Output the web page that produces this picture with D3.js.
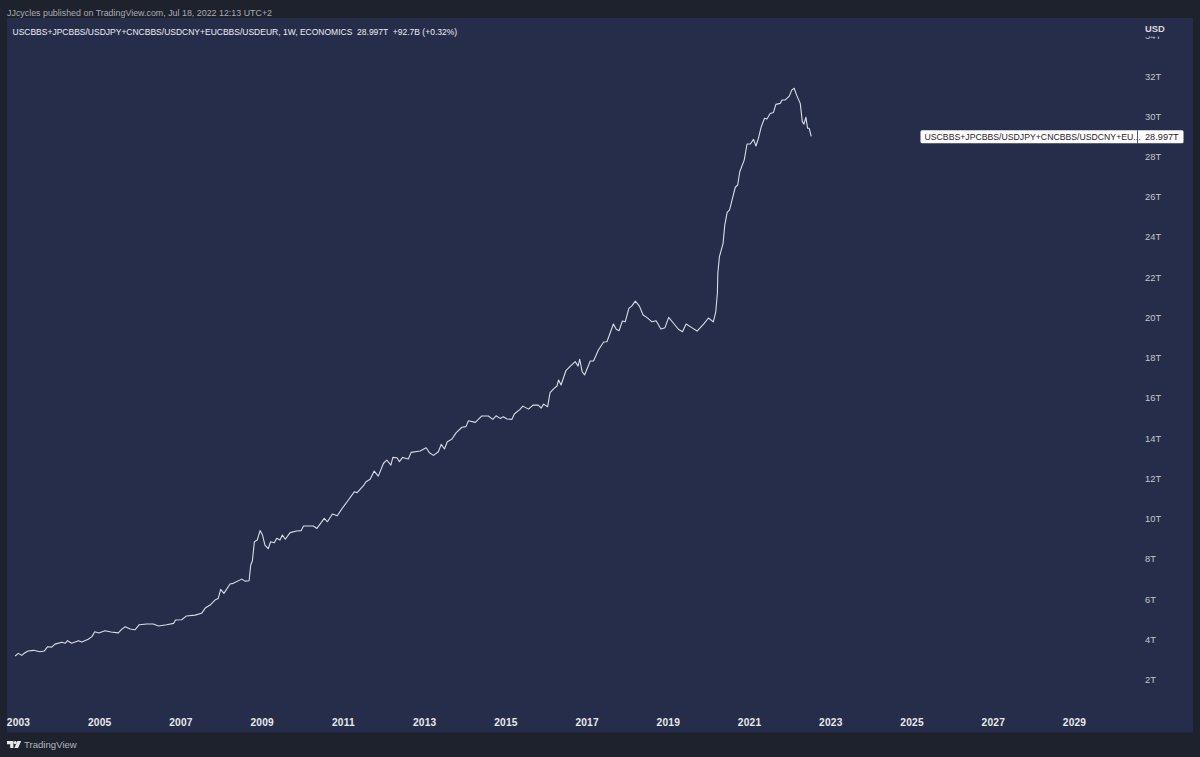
<!DOCTYPE html>
<html>
<head>
<meta charset="utf-8">
<script src="https://cdn.jsdelivr.net/npm/d3@7"></script>
<style>
  body { margin: 0; background: #1e222d; }
  svg { display: block; font-family: "Liberation Sans", sans-serif; }
</style>
</head>
<body>
<div id="chart"></div>
<script>
// decimal year, balance sheet total in trillions
const years = [
  2002.93,2003.01,2003.09,2003.17,2003.25,2003.38,2003.54,2003.65,2003.73,2003.83,2003.91,
  2004.08,2004.16,2004.22,2004.32,2004.49,2004.57,2004.73,2004.82,2004.89,2004.99,
  2005.14,2005.29,2005.47,2005.55,2005.64,2005.76,2005.88,2005.98,
  2006.17,2006.33,2006.46,2006.66,2006.83,2006.88,
  2007.03,2007.15,2007.36,2007.52,2007.61,2007.73,2007.85,2007.93,2007.99,
  2008.07,2008.22,2008.30,2008.51,2008.59,2008.69,2008.73,2008.77,2008.82,2008.89,2008.96,
  2009.02,2009.08,2009.16,2009.22,2009.31,2009.37,2009.45,2009.51,2009.58,2009.70,2009.86,2009.97,
  2010.03,2010.15,2010.27,2010.36,2010.54,2010.62,2010.74,2010.86,
  2011.00,2011.13,2011.28,2011.35,2011.50,2011.57,2011.67,2011.77,2011.87,
  2012.00,2012.08,2012.18,2012.23,2012.33,2012.39,2012.47,2012.61,2012.68,2012.90,
  2013.05,2013.13,2013.23,2013.35,2013.42,2013.50,2013.57,2013.68,2013.79,2013.93,
  2014.03,2014.09,2014.26,2014.42,2014.58,2014.69,2014.77,2014.87,2014.95,
  2015.04,2015.16,2015.22,2015.36,2015.43,2015.57,2015.68,2015.81,2015.88,2015.94,
  2016.04,2016.10,2016.20,2016.27,2016.31,2016.37,2016.49,2016.60,2016.72,2016.79,2016.83,2016.89,2016.95,
  2017.09,2017.17,2017.29,2017.42,2017.50,2017.66,2017.73,2017.80,2017.88,2017.95,
  2018.04,2018.11,2018.20,2018.30,2018.39,2018.48,2018.61,2018.71,2018.83,2018.93,
  2019.02,2019.14,2019.26,2019.36,2019.45,2019.59,2019.72,2019.88,
  2020.00,2020.12,2020.18,2020.22,2020.23,2020.27,2020.36,2020.40,2020.46,2020.52,2020.58,2020.66,2020.72,2020.77,2020.88,2020.95,
  2021.03,2021.11,2021.17,2021.23,2021.30,2021.38,2021.44,2021.52,2021.60,2021.66,2021.77,2021.81,2021.89,2021.99,
  2022.05,2022.11,2022.17,2022.26,2022.31,2022.35,2022.40,2022.44,2022.48,2022.53
];
const totals = [
  3.17,3.30,3.20,3.33,3.42,3.45,3.38,3.42,3.63,3.61,3.76,
  3.85,3.80,3.93,3.80,3.93,3.86,4.00,4.13,4.37,4.31,
  4.42,4.36,4.32,4.49,4.62,4.51,4.47,4.72,
  4.76,4.76,4.66,4.72,4.79,4.96,
  4.97,5.16,5.20,5.29,5.55,5.70,5.95,6.03,6.48,
  6.28,6.75,6.78,6.99,6.89,6.91,7.69,7.89,8.85,8.93,9.40,
  9.18,8.68,8.50,8.85,8.80,9.02,8.93,9.18,8.97,9.30,9.38,9.40,
  9.63,9.63,9.63,9.51,10.01,9.84,10.23,10.14,
  10.56,10.91,11.33,11.29,11.62,11.83,11.95,12.36,12.11,
  12.75,12.91,12.66,13.04,13.02,12.83,13.04,12.96,13.29,13.36,
  13.52,13.27,13.14,13.32,13.69,13.46,13.82,13.94,14.27,14.54,
  14.57,14.86,14.78,15.10,15.10,14.93,15.11,14.98,15.06,
  14.95,14.93,15.20,15.43,15.59,15.44,15.64,15.64,15.49,15.69,
  15.56,16.26,16.47,16.59,16.89,16.64,17.35,17.58,17.80,17.58,17.92,17.30,17.14,
  17.83,17.83,18.38,18.78,18.79,19.67,19.41,19.34,19.82,19.78,
  20.45,20.56,20.81,20.56,20.12,20.00,19.78,19.83,19.42,19.49,
  20.00,19.71,19.41,19.29,19.67,19.49,19.32,19.67,
  19.97,19.78,20.28,21.21,22.19,23.02,23.68,24.56,25.22,25.34,25.83,26.47,26.58,27.24,27.82,28.62,
  28.62,28.85,28.52,28.90,29.48,29.90,29.86,30.14,30.19,30.59,30.64,30.81,30.81,31.00,
  31.30,31.39,31.05,30.64,29.73,29.61,29.95,29.40,29.40,28.997
];
const yearTicks = [2003,2005,2007,2009,2011,2013,2015,2017,2019,2021,2023,2025,2027,2029];
const valueTicks = [2,4,6,8,10,12,14,16,18,20,22,24,26,28,30,32,34];
const lastValue = 28.997;

const publishedText = "JJcycles published on TradingView.com, Jul 18, 2022 12:13 UTC+2";
const legendText = "USCBBS+JPCBBS/USDJPY+CNCBBS/USDCNY+EUCBBS/USDEUR, 1W, ECONOMICS  28.997T  +92.7B (+0.32%)";
const tagText = "USCBBS+JPCBBS/USDJPY+CNCBBS/USDCNY+EU...";

const width = 1200, height = 757;
const panelColor = "#262d4a", outerColor = "#1e222d";

const svg = d3.select("#chart").append("svg")
  .attr("width", width)
  .attr("height", height);

svg.append("rect").attr("width", width).attr("height", height).attr("fill", outerColor);
svg.append("rect")
  .attr("x", 7).attr("y", 18)
  .attr("width", 1186).attr("height", 714.5)
  .attr("fill", panelColor);

const x = d3.scaleLinear().domain([2003, 2029]).range([18, 1074]);
const y = d3.scaleLinear().domain([2, 32]).range([679.5, 76]);

// value axis
const yAxis = svg.append("g")
  .attr("transform", "translate(1145,0)")
  .call(d3.axisRight(y).tickValues(valueTicks).tickSize(0).tickPadding(0).tickFormat(d => d + "T"));
yAxis.select(".domain").remove();
yAxis.selectAll("text")
  .attr("fill", "#c4c7d0")
  .attr("font-size", 9.4)
  .attr("font-family", "Liberation Sans, sans-serif");

// covers the top half of the 34T label, like the USD block does in the original
svg.append("rect")
  .attr("x", 1140).attr("y", 18)
  .attr("width", 40).attr("height", 18.5)
  .attr("fill", panelColor);
svg.append("text")
  .attr("x", 1145).attr("y", 32)
  .attr("fill", "#d6d8de")
  .attr("font-size", 9.4)
  .attr("font-weight", 700)
  .text("USD");

// year axis
const xAxis = svg.append("g")
  .attr("transform", "translate(0,719)")
  .call(d3.axisBottom(x).tickValues(yearTicks).tickSize(0).tickPadding(0).tickFormat(d3.format("d")));
xAxis.select(".domain").remove();
xAxis.selectAll("text")
  .attr("fill", "#e8e9ed")
  .attr("font-size", 10.2)
  .attr("font-weight", 700)
  .attr("font-family", "Liberation Sans, sans-serif")
  .attr("letter-spacing", 0.2);

// series
const line = d3.line()
  .x((d, i) => x(years[i]))
  .y(d => y(d));

svg.append("path")
  .datum(totals)
  .attr("d", line)
  .attr("fill", "none")
  .attr("stroke", "#d9dce8")
  .attr("stroke-width", 1.1)
  .attr("stroke-linejoin", "round");

// header lines
svg.append("text")
  .attr("x", 7).attr("y", 16)
  .attr("fill", "#a9acb6")
  .attr("font-size", 8.9)
  .text(publishedText);

svg.append("text")
  .attr("x", 12.5).attr("y", 34.5)
  .attr("fill", "#eceef2")
  .attr("font-size", 8.5)
  .attr("xml:space", "preserve")
  .text(legendText);

// last value tag
const tagY = y(lastValue) + 0.4;
svg.append("rect")
  .attr("x", 920.5).attr("y", tagY - 6.5)
  .attr("width", 263).attr("height", 13)
  .attr("rx", 1.5)
  .attr("fill", "#ffffff");
svg.append("line")
  .attr("x1", 1137.5).attr("x2", 1137.5)
  .attr("y1", tagY - 6.5).attr("y2", tagY + 6.5)
  .attr("stroke", "#262d4a")
  .attr("stroke-width", 0.8);
svg.append("text")
  .attr("x", 924.5).attr("y", tagY + 3.2)
  .attr("fill", "#1e222d")
  .attr("font-size", 8.7)
  .text(tagText);
svg.append("text")
  .attr("x", 1145).attr("y", tagY + 3.4)
  .attr("fill", "#1e222d")
  .attr("font-size", 9.2)
  .text(d3.format(".3f")(lastValue) + "T");

// TradingView logo and word
const logo = svg.append("g").attr("transform", "translate(7,741)").attr("fill", "#e8e9ed");
logo.append("path").attr("d", "M0 0H6.4V7H3.2V3.2H0Z");
logo.append("circle").attr("cx", 8.2).attr("cy", 1.6).attr("r", 1.6);
logo.append("path").attr("d", "M10.4 0H14.2L11.1 7H7.4Z");

svg.append("text")
  .attr("x", 24).attr("y", 748)
  .attr("fill", "#b2b5be")
  .attr("font-size", 9.6)
  .text("TradingView");
</script>
</body>
</html>
